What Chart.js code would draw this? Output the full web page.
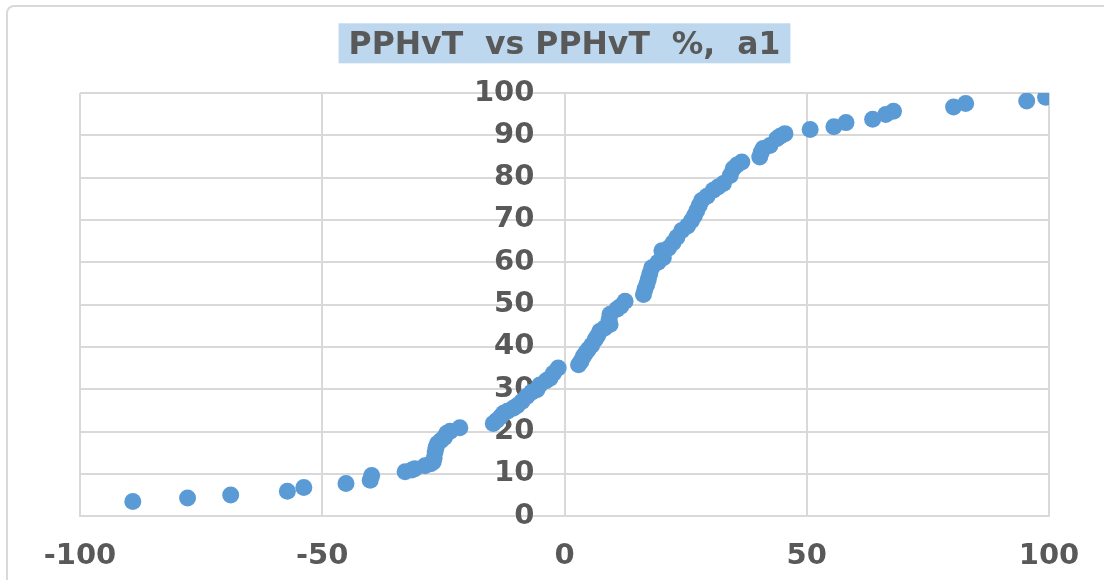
<!DOCTYPE html>
<html>
<head>
<meta charset="utf-8">
<script src="https://cdn.jsdelivr.net/npm/chart.js@4.4.0/dist/chart.umd.min.js"></script>
<style>
  html, body { margin: 0; padding: 0; background: #fff; overflow: hidden; }
  #moldura { position: absolute; left: 6px; top: 5px; width: 1300px; height: 800px; border: 2px solid #d9d9d9; border-radius: 8px; }
  #caixa { position: absolute; left: 0; top: 0; width: 1104px; height: 580px; }
</style>
</head>
<body>
<div id="moldura"></div>
<div id="caixa"><canvas id="grafico" width="1104" height="580"></canvas></div>
<script>
const tituloGrafico = 'PPHvT  vs PPHvT  %,  a1'

// valores (x = PPHvT, y = %)
const valoresX = [
    -89.1, -77.8, -68.9, -57.2, -53.8, -45.1, -40.1, -39.8, -32.9, -31.5,
    -30.9, -28.8, -27.6, -27.1, -26.9, -26.7, -26.5, -26.2, -25.5, -24.8,
    -24.3, -23.6, -21.6,
    -14.7, -14.0, -13.2, -12.6, -11.8, -10.6, -9.8, -8.8, -7.8, -6.8,
    -5.7, -5.1, -3.8, -3.0, -2.3, -1.3,
    2.9, 3.4, 3.9, 4.4, 4.9, 5.6, 6.3, 6.8, 7.3, 8.3,
    9.4, 9.2, 9.4, 10.8, 11.6, 12.5,
    16.3, 16.6, 17.0, 17.3, 17.6, 18.0, 19.3, 20.4, 20.1, 21.5,
    22.4, 23.2, 24.2, 25.4, 26.2, 26.8, 27.3, 27.8, 28.3, 29.4,
    30.7, 31.7, 32.8, 34.2, 34.8, 35.6, 36.6,
    40.3, 40.6, 41.0, 42.4, 43.8, 44.5, 45.5,
    50.7, 55.6, 58.1, 63.6, 66.3, 67.9, 80.3, 82.8, 95.4, 99.3
]
const valoresY = [
    3.5, 4.3, 5.0, 5.9, 6.8, 7.7, 8.5, 9.6, 10.5, 10.9,
    11.2, 11.9, 12.4, 12.8, 13.8, 15.2, 16.3, 17.2, 17.9, 18.6,
    19.6, 20.1, 20.9,
    21.9, 22.6, 23.5, 24.3, 24.8, 25.5, 26.1, 27.1, 28.3, 29.3,
    29.9, 31.0, 32.0, 32.6, 33.8, 35.0,
    35.8, 36.6, 37.8, 38.6, 39.4, 40.4, 41.7, 42.6, 43.7, 44.5,
    45.3, 46.5, 47.7, 48.9, 49.6, 50.8,
    52.4, 53.6, 54.8, 56.0, 57.3, 58.7, 60.0, 61.1, 62.7, 63.4,
    64.6, 65.9, 67.5, 68.6, 69.8, 71.0, 72.2, 73.4, 74.6, 75.6,
    77.0, 77.8, 78.6, 80.5, 82.1, 83.0, 83.7,
    84.9, 86.0, 86.9, 87.6, 89.2, 89.8, 90.4,
    91.4, 92.0, 93.0, 93.8, 94.9, 95.7, 96.7, 97.5, 98.1, 99.0
]

const limitesX = [-100, 100]
const limitesY = [0, 100]

const corPontos = '#5b9bd5'
const corTexto = '#595959'
const corGrade = '#d9d9d9'
const fonteEixo = { family: '"DejaVu Sans", Verdana, sans-serif', size: 29, weight: 'bold' }

const pontos = valoresX.map((x, i) => ({ x: x, y: valoresY[i] }))

// desenha o fundo azul claro atras do titulo
const fundoTitulo = {
    id: 'fundoTitulo',
    beforeDraw(chart) {
        const tb = chart.titleBlock
        if (!tb) return
        const opts = chart.options.plugins.title
        const ctx = chart.ctx
        ctx.save()
        ctx.font = `bold ${opts.font.size}px ${opts.font.family}`
        const largura = ctx.measureText(opts.text).width
        const centroX = (tb.left + tb.right) / 2
        const meio = tb.top + opts.padding.top + opts.font.size * 1.2 / 2
        ctx.fillStyle = '#bdd7ee'
        ctx.fillRect(centroX - largura / 2 - 10, meio - 23, largura + 20, 40)
        ctx.restore()
    }
}

const data = {
    datasets: [{
        label: tituloGrafico,
        data: pontos,
        backgroundColor: corPontos,
        borderWidth: 0,
        pointRadius: 8.5,
        pointHoverRadius: 8.5
    }]
}

const config = {
    type: 'scatter',
    data: data,
    options: {
        responsive: false,
        animation: false,
        devicePixelRatio: 1,
        layout: {
            padding: { left: 80, right: 55, top: 0, bottom: -17 }
        },
        plugins: {
            legend: { display: false },
            tooltip: { enabled: false },
            title: {
                display: true,
                text: tituloGrafico,
                color: corTexto,
                font: { family: '"DejaVu Sans", Verdana, sans-serif', size: 31.5, weight: 'bold' },
                padding: { top: 27.4, bottom: 27.8 }
            }
        },
        scales: {
            x: {
                type: 'linear',
                position: 'bottom',
                min: limitesX[0],
                max: limitesX[1],
                ticks: { stepSize: 50, color: corTexto, font: fonteEixo, padding: 23 },
                grid: { color: corGrade, lineWidth: 2, drawTicks: false },
                border: { color: corGrade, width: 2 }
            },
            y: {
                type: 'linear',
                // rotulos do eixo y terminam um pouco a esquerda do x = 0
                position: { x: -6.2 },
                min: limitesY[0],
                max: limitesY[1],
                ticks: { stepSize: 10, color: corTexto, font: fonteEixo },
                grid: { color: corGrade, lineWidth: 2, drawTicks: false },
                border: { display: false }
            }
        }
    },
    plugins: [fundoTitulo]
}

const grafico = new Chart(document.getElementById('grafico'), config)
</script>
</body>
</html>
